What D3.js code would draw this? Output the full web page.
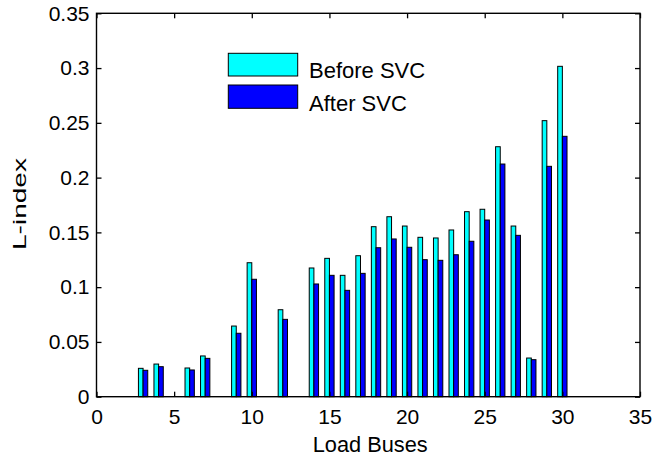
<!DOCTYPE html>
<html>
<head>
<meta charset="utf-8">
<script src="https://cdn.jsdelivr.net/npm/d3@7/dist/d3.min.js"></script>
<style>
  html, body { margin: 0; padding: 0; background: #fff; }
  svg { display: block; font-family: "Liberation Sans", Arial, sans-serif; }
</style>
</head>
<body>
<svg id="chart" width="654" height="461"></svg>
<script>
// Load buses of the system and their L-index before / after SVC placement
const buses = [3, 4, 6, 7, 9, 10, 12, 14, 15, 16, 17, 18, 19, 20, 21, 22, 23, 24, 25, 26, 27, 28, 29, 30];
const beforeSVC = [0.0259, 0.0298, 0.0262, 0.0372, 0.0645, 0.1223, 0.0794, 0.1175, 0.1263, 0.1108, 0.1287,
                   0.1552, 0.1643, 0.1558, 0.1455, 0.1449, 0.1522, 0.1689, 0.1711, 0.2282, 0.1558, 0.0353, 0.2520, 0.3016];
const afterSVC  = [0.0241, 0.0274, 0.0244, 0.0350, 0.0579, 0.1072, 0.0706, 0.1029, 0.1108, 0.0971, 0.1126,
                   0.1360, 0.1440, 0.1364, 0.1251, 0.1245, 0.1296, 0.1419, 0.1613, 0.2124, 0.1473, 0.0338, 0.2103, 0.2377];
const xTicks = [0, 5, 10, 15, 20, 25, 30, 35];
const yTicks = [0, 0.05, 0.1, 0.15, 0.2, 0.25, 0.3, 0.35];
const yTickLabels = ["0", "0.05", "0.1", "0.15", "0.2", "0.25", "0.3", "0.35"];
const seriesNames = ["Before SVC", "After SVC"];
const seriesColors = ["#00ffff", "#0000ff"];

const svg = d3.select("#chart");
const plotLeft = 96.5, plotRight = 640, plotTop = 13.3, plotBottom = 396.7;

const x = d3.scaleLinear().domain([0, 35]).range([plotLeft, plotRight]);
const y = d3.scaleLinear().domain([0, 0.35]).range([plotBottom, plotTop]);
const barW = x(0.3) - x(0);

// Bars: each group sits on its bus number, first series left of it, second right
const series = [beforeSVC, afterSVC];
series.forEach((vals, s) => {
  svg.append("g")
    .selectAll("rect")
    .data(buses.map((b, i) => ({ b, v: vals[i] })))
    .join("rect")
    .attr("x", d => x(d.b) - barW + s * barW)
    .attr("y", d => y(d.v))
    .attr("width", barW)
    .attr("height", d => y(0) - y(d.v))
    .attr("fill", seriesColors[s])
    .attr("stroke", "#000")
    .attr("stroke-width", 1);
});

// Axes with inward ticks on all four sides
const fontTick = 21;
const gx = svg.append("g").attr("transform", `translate(0,${plotBottom})`)
  .call(d3.axisBottom(x).tickValues(xTicks).tickSize(-5).tickPadding(12).tickFormat(d3.format("d")));
const gxTop = svg.append("g").attr("transform", `translate(0,${plotTop})`)
  .call(d3.axisTop(x).tickValues(xTicks).tickSize(-5).tickFormat(""));
const gy = svg.append("g").attr("transform", `translate(${plotLeft},0)`)
  .call(d3.axisLeft(y).tickValues(yTicks).tickSize(-5).tickPadding(7).tickFormat((d, i) => yTickLabels[i]));
const gyRight = svg.append("g").attr("transform", `translate(${plotRight},0)`)
  .call(d3.axisRight(y).tickValues(yTicks).tickSize(-5).tickFormat(""));

[gx, gxTop, gy, gyRight].forEach(g => {
  g.select(".domain").remove();
  g.selectAll(".tick line").attr("stroke", "#000").attr("stroke-width", 1.3);
  g.selectAll(".tick text").attr("font-size", fontTick).attr("fill", "#000")
    .attr("font-family", "Liberation Sans, Arial, sans-serif");
});

// Plot frame
svg.append("rect")
  .attr("x", plotLeft).attr("y", plotTop)
  .attr("width", plotRight - plotLeft).attr("height", plotBottom - plotTop)
  .attr("fill", "none").attr("stroke", "#000").attr("stroke-width", 1.4);

// Axis titles
svg.append("text")
  .attr("x", (plotLeft + plotRight) / 2 + 2).attr("y", 452)
  .attr("text-anchor", "middle").attr("font-size", 22)
  .attr("textLength", 115).attr("lengthAdjust", "spacingAndGlyphs")
  .text("Load Buses");

svg.append("text")
  .attr("transform", "translate(26,204) rotate(-90)")
  .attr("text-anchor", "middle").attr("font-size", 19)
  .attr("textLength", 92).attr("lengthAdjust", "spacingAndGlyphs")
  .text("L-index");

// Legend
const legend = svg.append("g");
const legendRows = [{ y: 53.3, h: 22.7, base: 78 }, { y: 85, h: 23.3, base: 111 }];
seriesNames.forEach((name, i) => {
  legend.append("rect")
    .attr("x", 228.3).attr("y", legendRows[i].y)
    .attr("width", 69.4).attr("height", legendRows[i].h)
    .attr("fill", seriesColors[i]).attr("stroke", "#000").attr("stroke-width", 1);
  legend.append("text")
    .attr("x", 309).attr("y", legendRows[i].base)
    .attr("font-size", 22)
    .text(name);
});
</script>
</body>
</html>
